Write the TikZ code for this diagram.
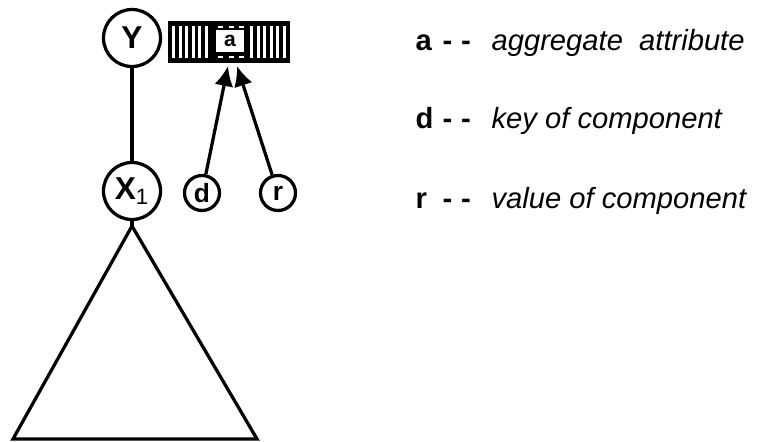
\documentclass[tikz,border=0pt]{standalone}
\usepackage{fontspec}
\setmainfont{Liberation Sans}
\usetikzlibrary{arrows.meta}
\begin{document}
\begin{tikzpicture}[x=0.2mm,y=-0.2mm,line width=0.65mm,
  circ/.style={circle,draw,inner sep=0pt,font=\fontsize{18}{20}\selectfont\bfseries},
  big/.style={circ,minimum size=11.4mm},
  small/.style={circ,minimum size=7mm,font=\fontsize{15}{16}\selectfont\bfseries},
  ptr/.style={-{Latex[length=4mm,width=3.8mm]}},
  keyl/.style={anchor=base west,inner sep=0pt,font=\fontsize{16.6}{20}\selectfont\bfseries},
  desc/.style={anchor=base west,inner sep=0pt,font=\fontsize{16.6}{20}\selectfont\itshape}]
  \useasboundingbox (0,0) rectangle (761,442);

  \node[big] (Y) at (132,38) {Y};
  \node[big] (X1) at (132,191) {X\textsubscript{\mdseries 1}};
  \node[small] (d) at (202,193) {d};
  \node[small] (r) at (278,193) {r};

  % aggregate box
  \node[fill=black,minimum width=24.4mm,minimum height=8.4mm,inner sep=0pt] (agg) at (229,42) {};
  \foreach \x in {172,178.5,...,210}
    \fill[white] (\x,26) rectangle +(3,32);
  \foreach \x in {250,256.5,...,288}
    \fill[white] (\x,26) rectangle +(3,32);
  \node[fill=white,minimum width=5.6mm,minimum height=4.4mm,inner sep=0pt,
    font=\fontsize{12}{14}\selectfont\bfseries] (cell) at (230,41) {a};
  \draw[white,dashed,line width=0.3mm] (218,27) -- (244,27);
  \draw[white,dashed,line width=0.3mm] (218,57) -- (244,57);

  \coordinate (tipd) at (228,66);
  \coordinate (tipr) at (237,66);
  \draw[ptr] (d) -- (tipd);
  \draw[ptr] (r) -- (tipr);

  \draw (Y) -- (X1);

  % subtree
  \coordinate (apex) at (132,226);
  \coordinate (bl) at (13,439);
  \coordinate (br) at (257,439);
  \draw (X1) -- (apex);
  \draw (apex) -- (bl) -- (br) -- cycle;

  % legend
  \foreach \k/\t/\y in {a/aggregate\ \ attribute/50, d/key of component/128, r/value of component/208}{
    \node[keyl] (k\k) at (414,\y) {\k};
    \node[keyl] (m\k) at (441,\y) {-\kern5pt-};
    \node[desc] (t\k) at (490,\y) {\t};
  }
\end{tikzpicture}
\end{document}
